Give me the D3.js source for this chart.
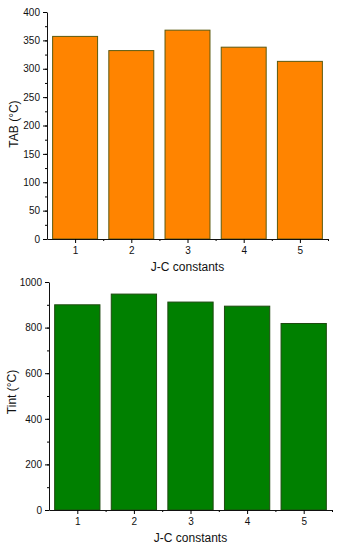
<!DOCTYPE html>
<html>
<head>
<meta charset="utf-8">
<script src="https://cdn.jsdelivr.net/npm/d3@7"></script>
<style>
  body { margin: 0; background: #fff; }
  svg { display: block; font-family: "Liberation Sans", Arial, sans-serif; }
</style>
</head>
<body>
<svg width="339" height="550"></svg>
<script>
const categories = [1, 2, 3, 4, 5];
const tabValues = [357, 332, 368, 338, 313];
const tintValues = [900, 947, 912, 894, 818];
const tabTicks = [0, 50, 100, 150, 200, 250, 300, 350, 400];
const tintTicks = [0, 200, 400, 600, 800, 1000];

const svg = d3.select("svg");

function drawPanel(opts) {
  const g = svg.append("g");
  const x = d3.scaleLinear().domain([0.5, 5.5]).range([opts.left, opts.right]);
  const y = d3.scaleLinear().domain([0, opts.max]).range([opts.bottom, opts.top]);
  const bw = (x(2) - x(1)) * 0.8;

  g.selectAll("rect")
    .data(categories)
    .enter()
    .append("rect")
    .attr("x", (d) => x(d) - bw / 2)
    .attr("y", (d, i) => y(opts.values[i]))
    .attr("width", bw)
    .attr("height", (d, i) => y(0) - y(opts.values[i]))
    .attr("fill", opts.fill)
    .attr("stroke", opts.stroke)
    .attr("stroke-width", 1);

  // minor ticks
  const yMinor = d3.range(0, opts.max + 1, opts.minor);
  g.append("g")
    .attr("transform", `translate(${opts.left},0)`)
    .call(d3.axisLeft(y).tickValues(yMinor).tickSize(2).tickFormat(""))
    .call((a) => a.select(".domain").remove());
  g.append("g")
    .attr("transform", `translate(0,${opts.bottom})`)
    .call(d3.axisBottom(x).tickValues([1.5, 2.5, 3.5, 4.5, 5.5]).tickSize(2).tickFormat(""))
    .call((a) => a.select(".domain").remove());

  const yAxis = g.append("g")
    .attr("transform", `translate(${opts.left},0)`)
    .call(d3.axisLeft(y).tickValues(opts.ticks).tickFormat(d3.format("d"))
      .tickSize(4).tickSizeOuter(0).tickPadding(3));
  const xAxis = g.append("g")
    .attr("transform", `translate(0,${opts.bottom})`)
    .call(d3.axisBottom(x).tickValues(categories).tickFormat(d3.format("d"))
      .tickSize(4).tickSizeOuter(0).tickPadding(4));
  [yAxis, xAxis].forEach((a) => {
    a.selectAll("text").attr("font-size", 10).attr("fill", "#111");
    a.select(".domain").attr("stroke", "#111");
  });

  g.append("text")
    .attr("x", (opts.left + opts.right) / 2)
    .attr("y", opts.bottom + 32)
    .attr("text-anchor", "middle")
    .attr("font-size", 12)
    .attr("fill", "#111")
    .text("J-C constants");

  g.append("text")
    .attr("transform", `translate(${opts.labelX},${opts.labelY}) rotate(-90)`)
    .attr("text-anchor", "middle")
    .attr("font-size", 12)
    .attr("fill", "#111")
    .text(opts.label);
}

drawPanel({
  values: tabValues, ticks: tabTicks, max: 400, minor: 25,
  left: 47, right: 328, top: 12, bottom: 239,
  fill: "#ff8400", stroke: "#5c5a10", label: "TAB (°C)", labelX: 18, labelY: 124
});

drawPanel({
  values: tintValues, ticks: tintTicks, max: 1000, minor: 100,
  left: 49, right: 332, top: 282, bottom: 510,
  fill: "#008000", stroke: "#1e4a10", label: "Tint (°C)", labelX: 16, labelY: 392
});
</script>
</body>
</html>
